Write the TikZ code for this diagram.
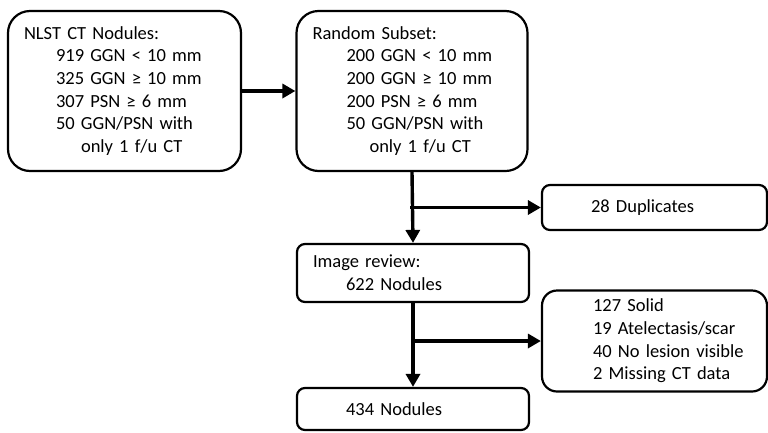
\documentclass[tikz,border=0pt]{standalone}
\usepackage{fontspec}
\setmainfont{Carlito}
\usetikzlibrary{arrows.meta}
\tikzset{
  box/.style={draw, line width=2.2pt, rounded corners=#1, inner xsep=16pt, inner ysep=0pt,
    align=left, font=\fontsize{18.5}{22.7}\selectfont},
  flow/.style={line width=3.4pt, -{Triangle[length=13pt,width=14pt]}},
}
\begin{document}
\begin{tikzpicture}[x=1pt,y=-1pt]
\path[use as bounding box, fill=white] (0,0) rectangle (768,432);
\node[box=22pt, text width=201pt, minimum width=233pt, minimum height=160pt] (nlst) at (124.5,91)
 {NLST CT Nodules:\\
  \hspace*{32pt}919 GGN < 10 mm\\
  \hspace*{32pt}325 GGN ≥ 10 mm\\
  \hspace*{32pt}307 PSN ≥ 6 mm\\
  \hspace*{32pt}50 GGN/PSN with\\
  \hspace*{57pt}only 1 f/u CT};
\node[box=22pt, text width=199pt, minimum width=231pt, minimum height=160pt] (rand) at (412,91)
 {Random Subset:\\
  \hspace*{34pt}200 GGN < 10 mm\\
  \hspace*{34pt}200 GGN ≥ 10 mm\\
  \hspace*{34pt}200 PSN ≥ 6 mm\\
  \hspace*{34pt}50 GGN/PSN with\\
  \hspace*{57pt}only 1 f/u CT};
\node[box=8pt, text width=193pt, minimum width=225pt, minimum height=45pt] (dup) at (654.5,207.5)
 {\hspace*{33pt}28 Duplicates};
\node[box=8pt, text width=200pt, minimum width=232pt, minimum height=58pt] (rev) at (413,273)
 {Image review:\\
  \hspace*{33pt}622 Nodules};
\node[box=15pt, text width=193pt, minimum width=225pt, minimum height=101pt] (excl) at (654.5,341)
 {\hspace*{35pt}127 Solid\\
  \hspace*{35pt}19 Atelectasis/scar\\
  \hspace*{35pt}40 No lesion visible\\
  \hspace*{35pt}2 Missing CT data};
\node[box=8pt, text width=200pt, minimum width=232pt, minimum height=42pt] (final) at (413,409)
 {\hspace*{33pt}434 Nodules};
\draw[flow] (nlst.east) -- (rand.west);
\draw[flow] (rand.south) -- (rev.north);
\draw[flow] (rev.south) -- (final.north);
\coordinate (j1) at (rand.south |- dup.west);
\coordinate (j2) at (rev.south |- excl.west);
\draw[flow] ([xshift=-1.7pt]j1) -- (dup.west);
\draw[flow] ([xshift=-1.7pt]j2) -- (excl.west);
\end{tikzpicture}
\end{document}
